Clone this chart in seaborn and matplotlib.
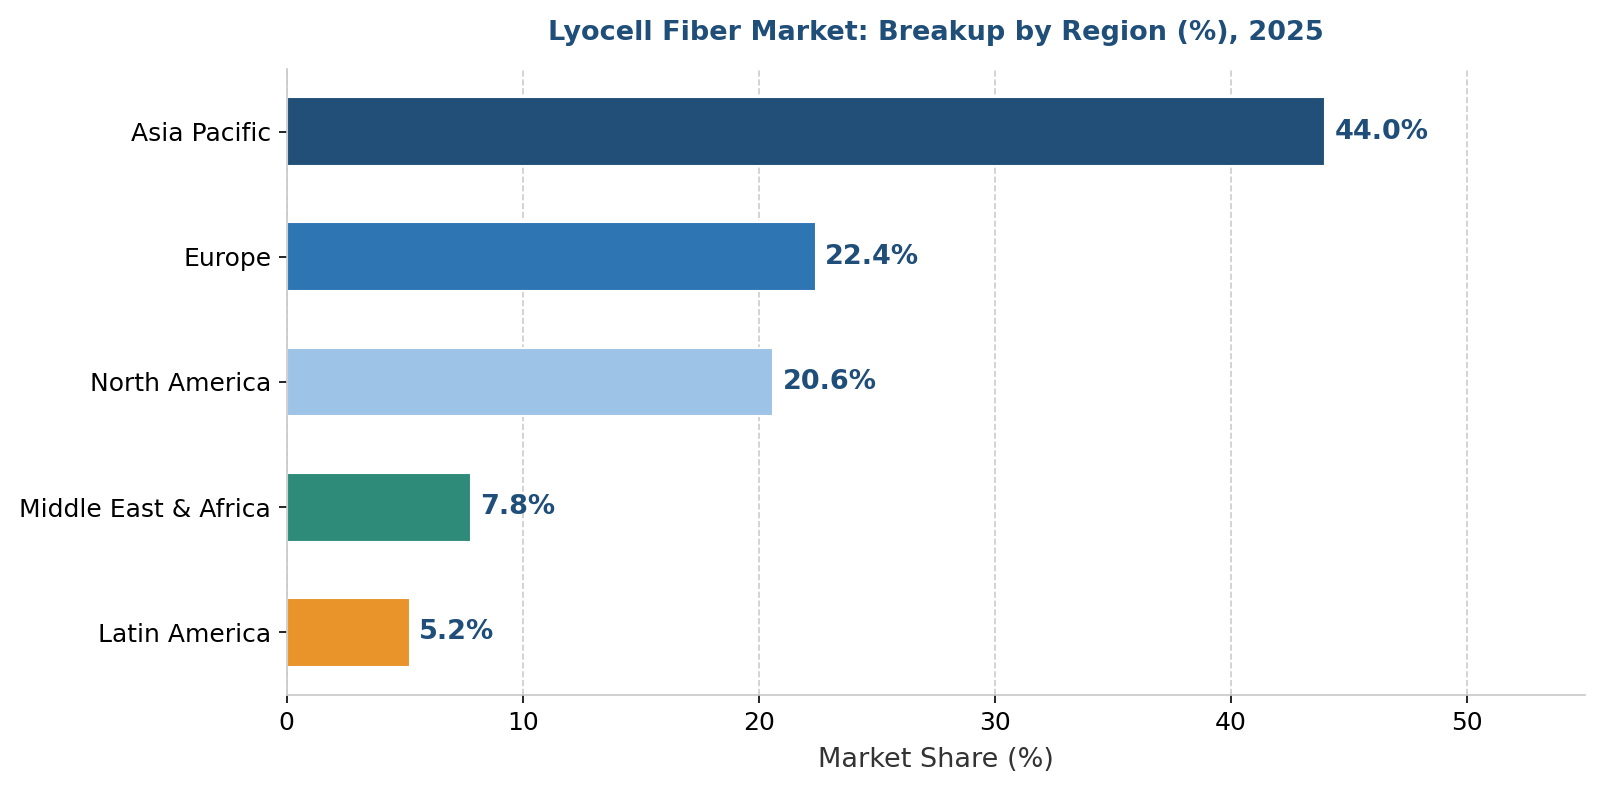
import pandas as pd
import matplotlib
matplotlib.use("Agg")
import matplotlib.pyplot as plt
import seaborn as sns

# Regional breakup of the lyocell fiber market, 2025
regions = ['Asia Pacific', 'Europe', 'North America', 'Middle East & Africa', 'Latin America']
shares = [44.0, 22.4, 20.6, 7.8, 5.2]
colors = ['#214f78', '#2e75b4', '#9dc3e6', '#2e8b7a', '#e8942a']

df = pd.DataFrame({'Region': regions, 'Share': shares})

sns.set_style('white')
plt.rcParams['font.family'] = ['DejaVu Sans']

fig, ax = plt.subplots(figsize=(10.68, 5.28), dpi=150)
sns.barplot(data=df, x='Share', y='Region', hue='Region', palette=colors,
            width=0.55, legend=False, ax=ax, saturation=1)

# value labels at the end of each bar
for i, v in enumerate(shares):
    ax.text(v + 0.4, i, f'{v:.1f}%', va='center', ha='left',
            fontsize=13, fontweight='bold', color='#1f4e79')

ax.set_xlim(0, 55)
ax.set_xlabel('Market Share (%)', fontsize=13, color='#333333', labelpad=6)
ax.set_ylabel('')
ax.set_title('Lyocell Fiber Market: Breakup by Region (%), 2025',
             fontsize=13, fontweight='bold', color='#1f4e79', pad=14)
ax.tick_params(axis='both', labelsize=12, length=4, color='black',
               labelcolor='black', left=True, bottom=True)

ax.grid(axis='x', linestyle='--', color='#cccccc', linewidth=0.8)
ax.set_axisbelow(True)
sns.despine(ax=ax, top=True, right=True)
for s in ['left', 'bottom']:
    ax.spines[s].set_color('#c8c8c8')

fig.subplots_adjust(left=0.179, right=0.9894, top=0.9129, bottom=0.1225)
plt.savefig('out.png', dpi=150)
